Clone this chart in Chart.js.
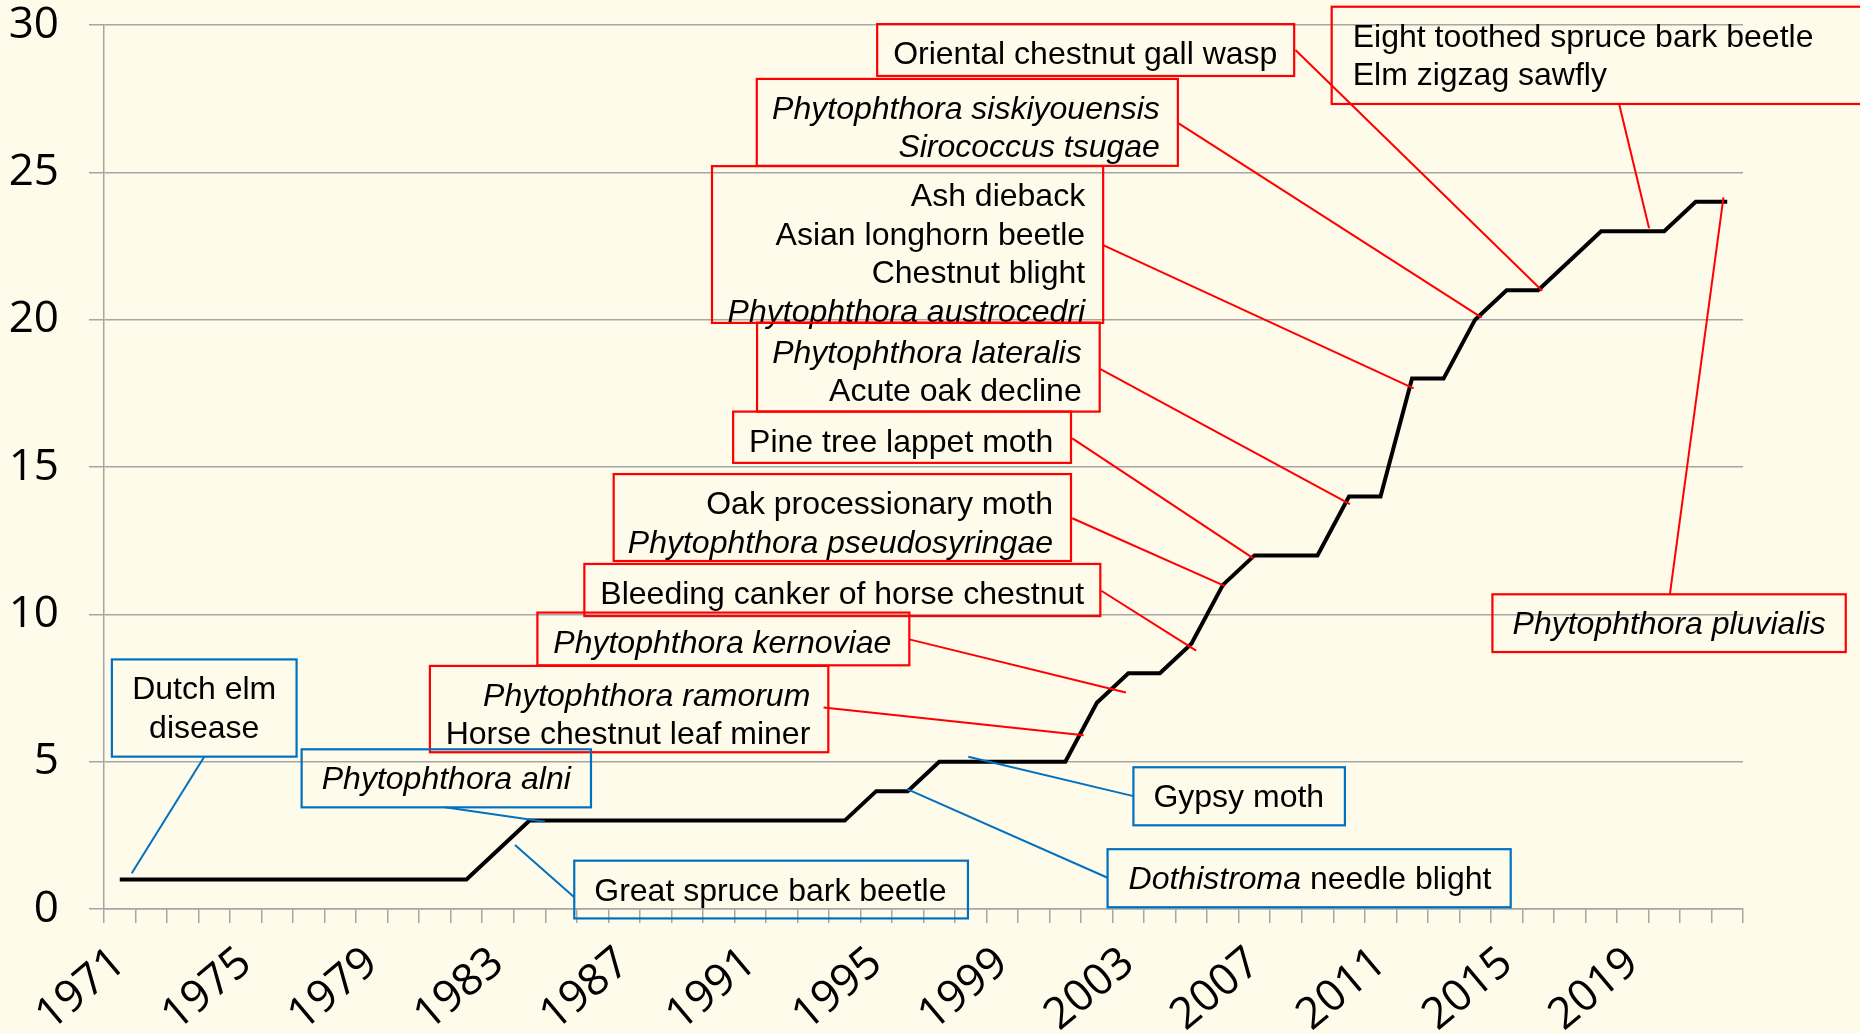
<!DOCTYPE html>
<html lang="en">
<head>
<meta charset="utf-8">
<title>Cumulative number of tree pests and diseases, 1971–2022</title>
<script src="https://cdn.jsdelivr.net/npm/chart.js@4.4.1/dist/chart.umd.min.js"></script>
<style>
  html, body { margin: 0; padding: 0; background: #fefbeb; overflow: hidden; }
  canvas { display: block; }
</style>
</head>
<body>
<canvas id="pestChart" width="1860" height="1033"></canvas>
<script>
// ---------- data ----------
const years = [
  '1971', '1972', '1973', '1974', '1975', '1976', '1977', '1978', '1979', '1980',
  '1981', '1982', '1983', '1984', '1985', '1986', '1987', '1988', '1989', '1990',
  '1991', '1992', '1993', '1994', '1995', '1996', '1997', '1998', '1999', '2000',
  '2001', '2002', '2003', '2004', '2005', '2006', '2007', '2008', '2009', '2010',
  '2011', '2012', '2013', '2014', '2015', '2016', '2017', '2018', '2019', '2020',
  '2021', '2022',
];
const cumulativeCount = [
  1, 1, 1, 1, 1, 1, 1, 1, 1, 1,
  1, 1, 2, 3, 3, 3, 3, 3, 3, 3,
  3, 3, 3, 3, 4, 4, 5, 5, 5, 5,
  5, 7, 8, 8, 9, 11, 12, 12, 12, 14,
  14, 18, 18, 20, 21, 21, 22, 23, 23, 23,
  24, 24,
];
const xTickLabels = ['1971', '1975', '1979', '1983', '1987', '1991', '1995', '1999', '2003', '2007', '2011', '2015', '2019'];
const yTicks = [0, 5, 10, 15, 20, 25, 30];

// ---------- callouts (box corners and leader ends in axis units: year, count) ----------
const RED = '#ff0000';
const BLUE = '#0070c0';
const callouts = [
  { color: RED, align: 'left', box: [1995.03, 30.03, 2008.26, 28.27], lines: ['Oriental chestnut gall wasp'], from: [2008.30, 29.15], to: [2016.13, 20.98] },
  { color: RED, align: 'right', box: [1991.21, 28.17, 2004.57, 25.22], lines: ['*Phytophthora siskiyouensis*', '*Sirococcus tsugae*'], from: [2004.57, 26.68], to: [2014.21, 20.07] },
  { color: RED, align: 'right', box: [1989.79, 25.21, 2002.20, 19.89], lines: ['Ash dieback', 'Asian longhorn beetle', 'Chestnut blight', '*Phytophthora austrocedri*'], from: [2002.20, 22.53], to: [2012.05, 17.67] },
  { color: RED, align: 'right', box: [1991.22, 19.90, 2002.09, 16.88], lines: ['*Phytophthora lateralis*', 'Acute oak decline'], from: [2002.10, 18.33], to: [2010.03, 13.74] },
  { color: RED, align: 'left', box: [1990.46, 16.88, 2001.18, 15.14], lines: ['Pine tree lappet moth'], from: [2001.22, 15.97], to: [2006.98, 11.89] },
  { color: RED, align: 'right', box: [1986.67, 14.76, 2001.18, 11.81], lines: ['Oak processionary moth', '*Phytophthora pseudosyringae*'], from: [2001.22, 13.26], to: [2006.07, 10.96] },
  { color: RED, align: 'left', box: [1985.74, 11.71, 2002.11, 9.94], lines: ['Bleeding canker of horse chestnut'], from: [2002.14, 10.80], to: [2005.15, 8.77] },
  { color: RED, align: 'right', box: [1984.25, 10.06, 1996.05, 8.27], lines: ['*Phytophthora kernoviae*'], from: [1996.05, 9.15], to: [2002.92, 7.35] },
  { color: RED, align: 'right', box: [1980.84, 8.25, 1993.48, 5.32], lines: ['*Phytophthora ramorum*', 'Horse chestnut leaf miner'], from: [1993.33, 6.84], to: [2001.58, 5.90] },
  { color: RED, align: 'left', pad: 21, box: [2009.45, 30.62, 2026.53, 27.32], lines: ['Eight toothed spruce bark beetle', 'Elm zigzag sawfly'], from: [2018.57, 27.32], to: [2019.52, 23.10] },
  { color: RED, align: 'center', box: [2014.55, 10.68, 2025.76, 8.72], lines: ['*Phytophthora pluvialis*'], from: [2020.18, 10.68], to: [2021.88, 24.15] },
  { color: BLUE, align: 'center', box: [1970.75, 8.47, 1976.61, 5.17], lines: ['Dutch elm', 'disease'], from: [1973.68, 5.17], to: [1971.38, 1.21] },
  { color: BLUE, align: 'center', box: [1976.77, 5.42, 1985.95, 3.45], lines: ['*Phytophthora alni*'], from: [1981.32, 3.45], to: [1984.49, 2.96] },
  { color: BLUE, align: 'left', pad: 20, box: [1985.42, 1.64, 1997.91, -0.32], lines: ['Great spruce bark beetle'], from: [1985.42, 0.40], to: [1983.54, 2.17] },
  { color: BLUE, align: 'left', pad: 20, box: [2003.16, 4.81, 2009.87, 2.84], lines: ['Gypsy moth'], from: [2003.16, 3.83], to: [1997.92, 5.17] },
  { color: BLUE, align: 'left', pad: 21, box: [2002.34, 2.03, 2015.13, 0.06], lines: ['*Dothistroma* needle blight'], from: [2002.34, 1.06], to: [1995.98, 4.07] },
];

const GRID = '#a6a6a6';
const TICK_FONT = { family: '"Open Sans", "Noto Sans", sans-serif', size: 44 };
const NOTE_FONT = '"Liberation Sans", Arial, sans-serif';
const NOTE_SIZE = 32;
const LINE_GAP = 38.5;

// ---------- plugins ----------
const backgroundPlugin = {
  id: 'cream',
  beforeDraw(chart) {
    const { ctx, width, height } = chart;
    ctx.save();
    ctx.fillStyle = '#fefbeb';
    ctx.fillRect(0, 0, width, height);
    ctx.restore();
  },
};

// '*text*' marks italic parts of a line
function splitItalic(line) {
  return line.split('*').map((text, i) => ({ text, italic: i % 2 === 1 })).filter((s) => s.text);
}

const calloutPlugin = {
  id: 'callouts',
  afterDatasetsDraw(chart) {
    const { ctx } = chart;
    const xs = chart.scales.x;
    const ys = chart.scales.y;
    const first = Number(years[0]);
    const px = (year) => xs.getPixelForValue(year - first);
    const py = (v) => ys.getPixelForValue(v);

    ctx.save();
    callouts.forEach((c) => {
      const left = px(c.box[0]);
      const top = py(c.box[1]);
      const right = px(c.box[2]);
      const bottom = py(c.box[3]);

      // leader line
      ctx.strokeStyle = c.color;
      ctx.lineWidth = 2;
      ctx.beginPath();
      ctx.moveTo(px(c.from[0]), py(c.from[1]));
      ctx.lineTo(px(c.to[0]), py(c.to[1]));
      ctx.stroke();

      // box (no fill, grid shows through)
      ctx.lineWidth = 2.2;
      ctx.strokeRect(left, top, right - left, bottom - top);

      // text
      ctx.fillStyle = '#000';
      ctx.textBaseline = 'alphabetic';
      ctx.textAlign = 'left';
      c.lines.forEach((line, i) => {
        const segs = splitItalic(line);
        const widths = segs.map((s) => {
          ctx.font = (s.italic ? 'italic ' : '') + NOTE_SIZE + 'px ' + NOTE_FONT;
          return ctx.measureText(s.text).width;
        });
        const total = widths.reduce((a, b) => a + b, 0);
        let x;
        if (c.align === 'right') x = right - (c.pad || 18) - total;
        else if (c.align === 'center') x = (left + right) / 2 - total / 2;
        else x = left + (c.pad || 16);
        const y = top + 40 + i * LINE_GAP;
        segs.forEach((s, k) => {
          ctx.font = (s.italic ? 'italic ' : '') + NOTE_SIZE + 'px ' + NOTE_FONT;
          ctx.fillText(s.text, x, y);
          x += widths[k];
        });
      });
    });
    ctx.restore();
  },
};

// ---------- chart ----------
new Chart(document.getElementById('pestChart'), {
  type: 'line',
  data: {
    labels: years,
    datasets: [
      {
        label: 'Cumulative pests and diseases',
        data: cumulativeCount,
        borderColor: '#000',
        borderWidth: 4,
        pointRadius: 0,
        tension: 0,
        fill: false,
      },
    ],
  },
  options: {
    responsive: false,
    devicePixelRatio: 1,
    animation: false,
    layout: { padding: { top: 25, right: 117, bottom: 0, left: 0 } },
    plugins: {
      legend: { display: false },
      tooltip: { enabled: false },
    },
    scales: {
      x: {
        offset: true,
        grid: {
          offset: true,
          drawOnChartArea: false,
          drawTicks: true,
          tickLength: 14,
          color: GRID,
          lineWidth: 1.5,
        },
        border: { display: true, color: GRID, width: 1.5 },
        ticks: {
          autoSkip: false,
          minRotation: 40,
          maxRotation: 40,
          padding: 14,
          color: '#000',
          font: TICK_FONT,
          callback(value) {
            const label = this.getLabelForValue(value);
            return xTickLabels.includes(label) ? label : '';
          },
        },
        afterFit(scale) {
          scale.height = 124;
          scale.paddingLeft = 0;
          scale.paddingRight = 0;
        },
      },
      y: {
        min: 0,
        max: 30,
        afterBuildTicks(scale) { scale.ticks = yTicks.map((v) => ({ value: v })); },
        grid: { color: GRID, lineWidth: 1.5, tickLength: 15 },
        border: { display: true, color: GRID, width: 1.5 },
        ticks: { color: '#000', font: TICK_FONT, padding: 30 },
        afterFit(scale) {
          scale.width = 104;
          scale.paddingTop = 0;
          scale.paddingBottom = 0;
        },
      },
    },
  },
  plugins: [backgroundPlugin, calloutPlugin],
});
</script>
</body>
</html>
